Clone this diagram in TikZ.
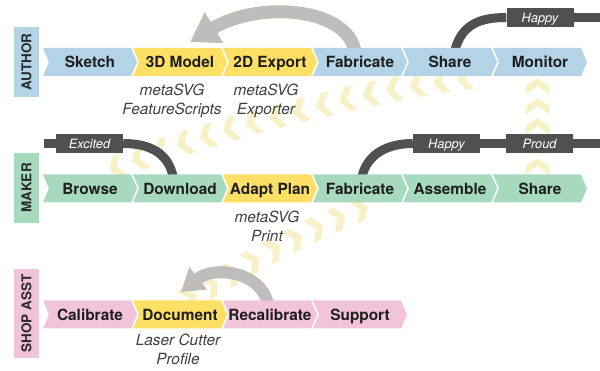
\documentclass[tikz,border=0pt]{standalone}
\usepackage{fontspec}
\setmainfont{TeX Gyre Heros}
\usetikzlibrary{arrows.meta,decorations.markings}

\definecolor{authorblue}{HTML}{B3D4E6}
\definecolor{stepyellow}{HTML}{FFE066}
\definecolor{makergreen}{HTML}{A6D9BE}
\definecolor{shoppink}{HTML}{F2C4D9}
\definecolor{loopgray}{HTML}{BEBDBB}
\definecolor{moodgray}{HTML}{505050}
\definecolor{trailfill}{HTML}{F6F1C6}
\definecolor{stepink}{HTML}{1F1F1F}
\definecolor{noteink}{HTML}{404040}
\definecolor{laneink}{HTML}{2B2B2B}

\pgfdeclarelayer{trails}
\pgfdeclarelayer{links}
\pgfsetlayers{trails,links,main}

% one chevron step: name, left x, centre y, fill, label
\newcommand{\stepchev}[5]{%
  \fill[#4] (#2,#3-14) -- ++(88,0) -- ++(6,14) -- ++(-6,14) -- ++(-88,0) -- ++(6,-14) -- cycle;
  \node[steptext] (#1) at (#2+47,#3) {#5};
}

\begin{document}
\begin{tikzpicture}[x=1pt,y=-1pt,
  steptext/.style={inner sep=0pt, minimum height=28pt, text height=11.5pt, text depth=0.4pt,
    font=\bfseries\fontsize{15.4}{18}\selectfont, text=stepink},
  annot/.style={align=center, inner sep=0pt, font=\itshape\fontsize{15.4}{19}\selectfont, text=noteink},
  moodtag/.style={fill=moodgray, inner sep=0pt, minimum width=67pt, minimum height=19pt,
    text height=9.4pt, text depth=0.2pt, text=white, font=\itshape\fontsize{12.8}{15}\selectfont},
  lanebox/.style={rotate=90, inner sep=0pt, minimum height=25pt, text height=9.8pt, text depth=0pt,
    font=\bfseries\fontsize{13.5}{16}\selectfont, text=laneink},
  moodline/.style={draw=moodgray, line width=9pt},
  backloop/.style={draw=loopgray, line width=13pt, -{Triangle[length=28pt,width=34pt]}},
  chevmark/.style={fill=trailfill},
  trailmarks/.style={decorate, decoration={markings,
    mark=between positions 0 and 1 step #1 with {\fill[chevmark] (-8pt,-12pt) -- (0pt,-12pt) -- (8pt,0pt) -- (0pt,12pt) -- (-8pt,12pt) -- (0pt,0pt) -- cycle;}}},
]
\useasboundingbox (0,0) rectangle (600,371);

% ---- author row
\stepchev{a1}{43}{62}{authorblue}{Sketch}
\stepchev{a2}{133}{62}{stepyellow}{3D Model}
\stepchev{a3}{223}{62}{stepyellow}{2D Export}
\stepchev{a4}{313}{62}{authorblue}{Fabricate}
\stepchev{a5}{403}{62}{authorblue}{Share}
\stepchev{a6}{493}{62}{authorblue}{Monitor}

% ---- maker row
\stepchev{m1}{43}{188.5}{makergreen}{Browse}
\stepchev{m2}{133}{188.5}{makergreen}{Download}
\stepchev{m3}{223}{188.5}{stepyellow}{Adapt Plan}
\stepchev{m4}{313}{188.5}{makergreen}{Fabricate}
\stepchev{m5}{403}{188.5}{makergreen}{Assemble}
\stepchev{m6}{493}{188.5}{makergreen}{Share}

% ---- shop assistant row
\stepchev{s1}{43}{314.5}{shoppink}{Calibrate}
\stepchev{s2}{133}{314.5}{stepyellow}{Document}
\stepchev{s3}{223}{314.5}{shoppink}{Recalibrate}
\stepchev{s4}{313}{314.5}{shoppink}{Support}

% ---- tool notes under the yellow steps
\node[annot] (n1) at (172,101) {metaSVG\\FeatureScripts};
\node[annot] (n2) at (266,101) {metaSVG\\Exporter};
\node[annot] (n3) at (267,226.5) {metaSVG\\Print};
\node[annot] (n4) at (178,349.5) {Laser Cutter\\Profile};

% ---- mood tags
\node[moodtag] (hA) at (540,17.5) {Happy};
\node[moodtag] (exM) at (89.5,143.5) {Excited};
\node[moodtag] (hM) at (446.5,143.5) {Happy};
\node[moodtag] (prM) at (539.5,143.5) {Proud};
\coordinate (hAend) at (600,17.5);
\coordinate (prEnd) at (600,143.5);
\coordinate (exEnd) at (44,143.5);

% ---- lane labels
\node[lanebox, fill=authorblue, minimum width=70pt] (laneA) at (26.5,62) {AUTHOR};
\node[lanebox, fill=makergreen, minimum width=70pt] (laneM) at (26.5,188) {MAKER};
\node[lanebox, fill=shoppink, minimum width=89pt] (laneS) at (26.5,313.5) {SHOP ASST};

% ---- hand-over trails between rows (behind everything)
\begin{pgfonlayer}{trails}
\path[trailmarks=24pt] ([shift={(15,2)}]a5.south) .. controls (380,88) and (200,130) .. ([shift={(5,2)}]m1.north);
\path[trailmarks=24pt] ([shift={(10,-2)}]s2.north) .. controls (250,262) and (310,228) .. ([shift={(12,2)}]m4.south);
\path[trailmarks=20pt] ([shift={(-2.5,-8)}]m6.north) -- ([shift={(-2.5,6)}]a6.south);
\end{pgfonlayer}

% ---- iteration loops and mood lines (behind the steps)
\coordinate (authorTip) at (190,42);
\coordinate (shopTip) at (181,292);
\begin{pgfonlayer}{links}
\draw[backloop] ([shift={(-5,4)}]a4.north) .. controls (348,8) and (260,0) .. (authorTip);
\draw[backloop, line width=12pt, -{Triangle[length=22pt,width=27pt]}] ([shift={(-2,4)}]s3.north) .. controls (262,272) and (215,265) .. (shopTip);

\draw[moodline] ([shift={(5,2)}]a5.north) .. controls +(7,-25) and +(-27,0) .. (hA.west);
\draw[moodline] (hA.east) -- (hAend);
\draw[moodline] (exEnd) -- (exM.west);
\draw[moodline] (exM.east) .. controls +(27,0) and +(-5,-23) .. ([shift={(-7,2)}]m2.north);
\draw[moodline] ([shift={(2,2)}]m4.north) .. controls +(6,-24) and +(-23,0) .. (hM.west);
\draw[moodline] (hM.east) -- (prM.west);
\draw[moodline] (prM.east) -- (prEnd);
\end{pgfonlayer}
\end{tikzpicture}
\end{document}
